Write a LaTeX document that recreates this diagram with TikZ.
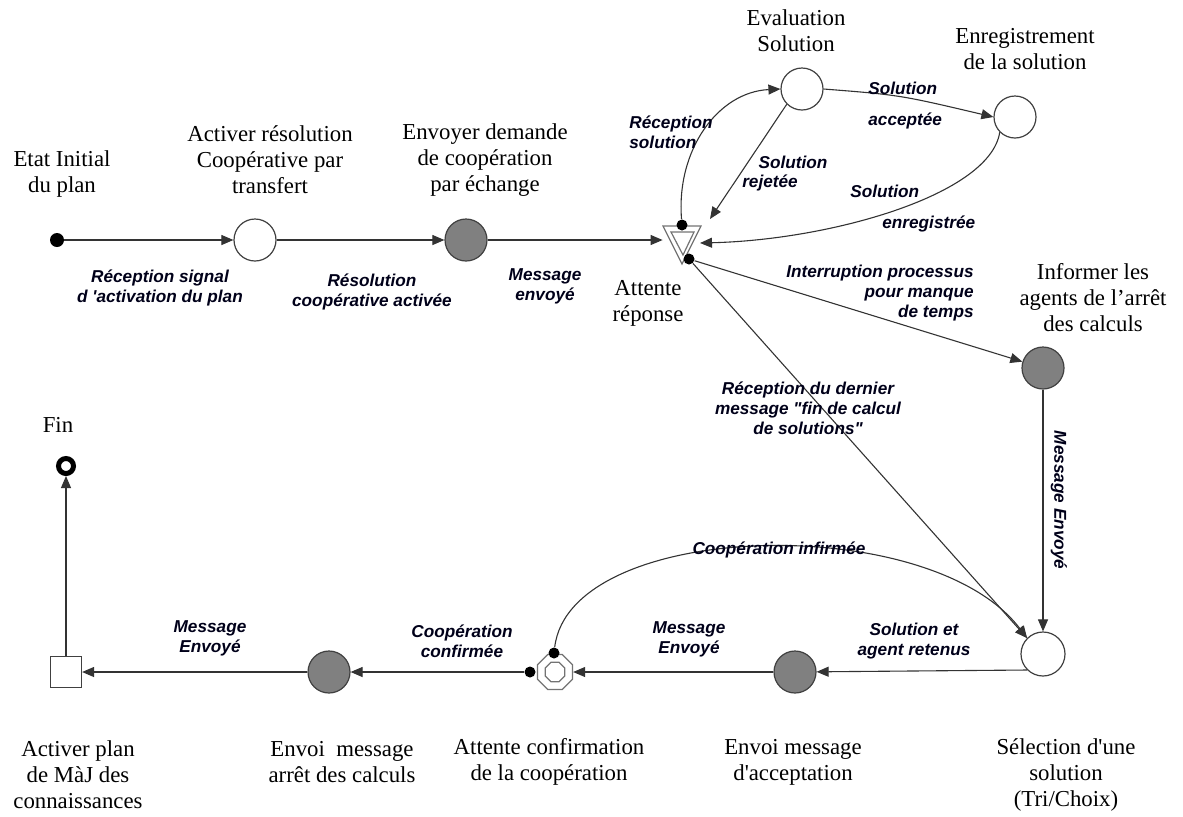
\documentclass[tikz,border=0pt]{standalone}
\usepackage{fontspec}
\setmainfont{Liberation Serif}[Ligatures=TeXOff]
\setsansfont{Liberation Sans}[Ligatures=TeXOff]
\usetikzlibrary{arrows.meta,shapes.geometric}
\begin{document}
\begin{tikzpicture}[x=0.5pt,y=-0.5pt,
  line/.style={draw=black!80,line width=0.55pt},
  arr/.style={line,-{Triangle[length=6pt,width=5pt]}},
  state/.style={circle,draw=black!75,line width=0.6pt,minimum size=21pt,inner sep=0pt,fill=white},
  busy/.style={state,fill=black!50},
  dot/.style={circle,fill=black,inner sep=0pt,minimum size=5.5pt},
  title/.style={font=\fontsize{11.4}{13}\selectfont,align=center,inner sep=0pt},
  lbl/.style={font=\sffamily\bfseries\itshape\fontsize{8.6}{10}\selectfont,align=center,inner sep=0pt,text=black!90!blue}
]
\path[use as bounding box] (0,0) rectangle (1183,816);

% ---- states ----
\node[dot,minimum size=7pt] (start) at (57,240) {};
\node[state] (act)  at (255,240) {};
\node[busy]  (dem)  at (466,240) {};
\node[minimum width=19pt,minimum height=19pt,inner sep=0pt] (att) at (682,240) {};
\draw[black!55,line width=0.6pt] (663,226) -- (701,226) -- (682,264) -- cycle;
\draw[black!55,line width=0.6pt] (671,232) -- (694,232) -- (683,255) -- cycle;
\node[dot] (attTop) at (682,225) {};
\node[dot] (attBot) at (689,259) {};
\node[state] (eval) at (802,89) {};
\node[state] (enr)  at (1015,117) {};
\node[busy]  (inf)  at (1043,368) {};
\node[state,minimum size=22pt] (sel) at (1043,654) {};
\node[busy]  (acc)  at (795,672) {};
\node[regular polygon,regular polygon sides=8,draw=black!55,line width=0.6pt,minimum size=19pt,inner sep=0pt] (oct) at (555,672) {};
\node[regular polygon,regular polygon sides=8,draw=black!55,line width=0.6pt,minimum size=10.5pt,inner sep=0pt] (octIn) at (555,672) {};
\node[dot] (octL) at (530,672) {};
\node[dot] (octT) at (554,653) {};
\node[busy]  (arr)  at (329,672) {};
\node[rectangle,draw=black!75,line width=0.6pt,minimum size=15.5pt,inner sep=0pt,fill=white] (maj) at (66,672) {};
\node[circle,draw=black,line width=2.5pt,minimum size=7.5pt,inner sep=0pt] (fin) at (66,466) {};

% ---- state titles ----
\node[title] (tStart) at (62,174) {Etat Initial\\du plan};
\node[title] (tAct) at (270,160) {Activer résolution\\Coopérative par\\transfert};
\node[title] (tDem) at (485,160) {Envoyer demande\\de coopération\\par échange};
\node[title] (tAtt) at (648,303) {Attente\\réponse};
\node[title] (tEval) at (796,31) {Evaluation\\Solution};
\node[title] (tEnr) at (1025,49) {Enregistrement\\de la solution};
\node[title] (tInf) at (1093,298) {Informer les\\agents de l’arrêt\\des calculs};
\node[title] (tSel) at (1066,775) {Sélection d'une\\solution\\(Tri/Choix)};
\node[title] (tAcc) at (793,762) {Envoi message\\d'acceptation};
\node[title] (tOct) at (549,762) {Attente confirmation\\de la coopération};
\node[title] (tArr) at (342,762) {Envoi\ \ message\\arrêt des calculs};
\node[title] (tMaj) at (78,775) {Activer plan\\de MàJ des\\connaissances};
\node[title] (tFin) at (58,425) {Fin};

% ---- transitions ----
\draw[arr] (start) -- (act);
\draw[arr] (act) -- (dem);
\draw[arr] (dem) -- (att.west);
\draw[arr] (attTop) .. controls (676,150) and (718,92) .. (eval.west);
\draw[arr] (eval.south west) -- (710,219);
\draw[arr] (eval.east) .. controls (900,95) .. (enr.west);
\draw[arr] (enr.south west) .. controls (990,195) and (830,240) .. (700,243);
\draw[arr] (attBot) -- (inf);
\draw[arr] (attBot) -- (sel.north west);
\draw[arr] (inf) -- (sel);
\draw[arr] (sel.south west |- 0,670) -- (acc);
\draw[arr] (acc) -- (oct);
\draw[arr] (octL) -- (arr);
\draw[arr] (octT) .. controls (570,520) and (930,510) .. (sel.north west);
\draw[arr] (arr) -- (maj);
\draw[arr] (maj) -- (fin);

% ---- transition labels ----
\node[lbl] (l1) at (160,288) {Réception signal\\d 'activation du plan};
\node[lbl] (l2) at (372,292) {Résolution\\coopérative activée};
\node[lbl] (l3) at (545,286) {Message\\envoyé};
\node[lbl,align=left,anchor=west] (l4) at (629,132) {Réception\\solution};
\node[lbl] (l5a) at (793,162) {Solution};
\node[lbl] (l5b) at (770,183) {rejetée};
\node[lbl,anchor=west] (l6a) at (868,88) {Solution};
\node[lbl,anchor=west] (l6b) at (868,121) {acceptée};
\node[lbl,anchor=west] (l7a) at (850,191) {Solution};
\node[lbl,anchor=west] (l7b) at (882,224) {enregistrée};
\node[lbl,align=right,anchor=east] (l8) at (974,293) {Interruption processus\\pour manque\\de temps};
\node[lbl] (l9) at (808,408) {Réception du dernier\\message "fin de calcul\\de solutions"};
\node[lbl,rotate=-90] (l10) at (1059,500) {Message Envoyé};
\node[lbl] (l11) at (779,550) {Coopération infirmée};
\node[lbl] (l12) at (914,641) {Solution et\\agent retenus};
\node[lbl] (l13) at (689,639) {Message\\Envoyé};
\node[lbl] (l14) at (462,641) {Coopération\\confirmée};
\node[lbl] (l15) at (210,638) {Message\\Envoyé};
\end{tikzpicture}
\end{document}
